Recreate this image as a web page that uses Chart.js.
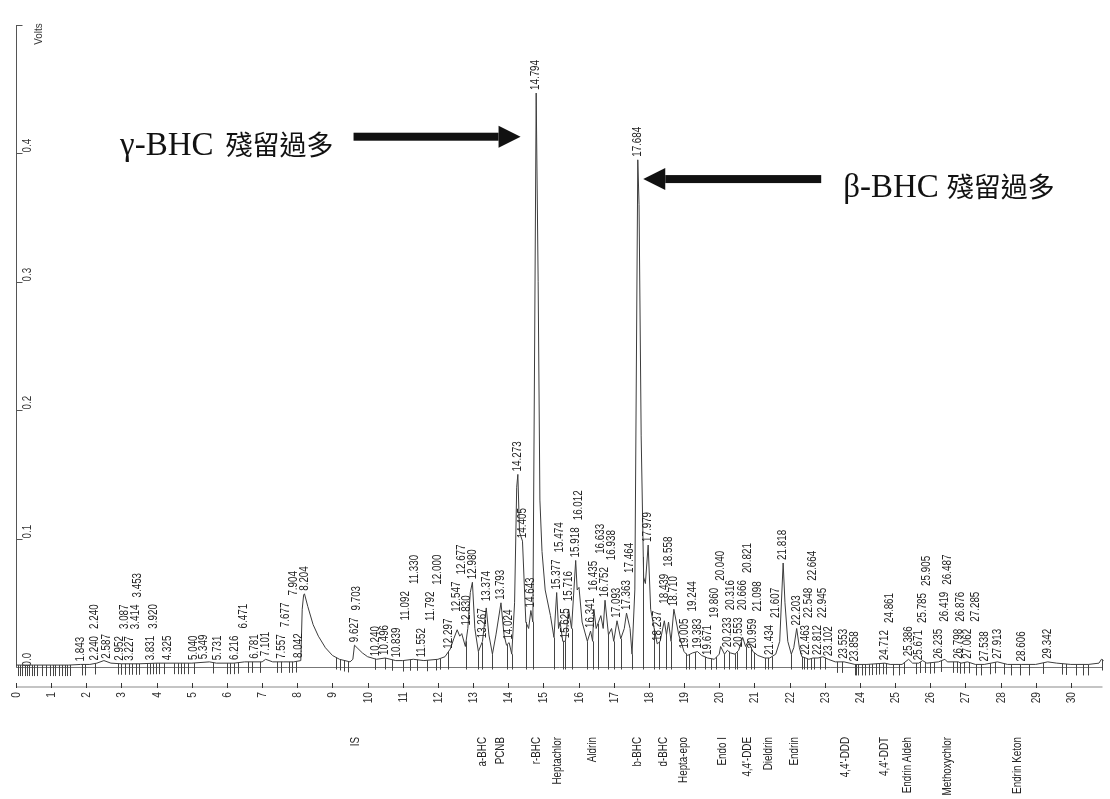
<!DOCTYPE html>
<html><head><meta charset="utf-8">
<script src="https://cdn.jsdelivr.net/npm/chart.js@4.4.1/dist/chart.umd.min.js"></script>
<style>html,body{margin:0;padding:0;background:#fff;}#wrap{width:1110px;height:799px;}</style>
</head><body><div id="wrap"><canvas id="c" width="1110" height="799"></canvas></div>
<script>
// ---- DATA ----
const traceTime = [0,0.5,1.0,1.5,1.84,2.1,2.3,2.5,2.7,3.0,3.5,4.0,4.5,5.0,5.5,5.7,6.2,6.5,7.0,7.1,7.3,7.6,7.9,8.1,8.14,8.18,8.204,8.3,8.45,8.6,8.8,9.0,9.2,9.5,9.58,9.627,9.7,9.85,10.0,10.25,10.5,10.8,11.0,11.3,11.6,12.0,12.2,12.35,12.45,12.547,12.62,12.677,12.78,12.85,12.92,12.98,13.05,13.15,13.267,13.374,13.45,13.55,13.65,13.793,13.88,13.95,14.024,14.1,14.18,14.24,14.273,14.32,14.405,14.5,14.58,14.643,14.7,14.75,14.794,14.85,14.9,14.96,15.05,15.2,15.3,15.377,15.43,15.474,15.55,15.625,15.716,15.8,15.918,15.96,16.012,16.1,16.25,16.341,16.4,16.435,16.5,16.633,16.7,16.752,16.85,16.938,17.0,17.093,17.2,17.3,17.363,17.464,17.52,17.6,17.684,17.72,17.78,17.85,17.9,17.979,18.05,18.15,18.237,18.32,18.439,18.5,18.558,18.63,18.71,18.85,19.0,19.1,19.244,19.383,19.5,19.671,19.86,20.0,20.04,20.15,20.233,20.316,20.45,20.553,20.666,20.75,20.821,20.959,21.098,21.3,21.434,21.607,21.72,21.818,21.87,21.95,22.05,22.12,22.203,22.28,22.35,22.463,22.548,22.664,22.812,22.945,23.102,23.3,23.553,23.858,24.2,24.712,24.861,25.2,25.386,25.5,25.671,25.785,25.905,26.235,26.419,26.487,26.798,26.876,27.062,27.285,27.538,27.913,28.2,28.606,29.0,29.342,29.6,30.0,30.5,30.8,30.87,30.93];
const traceVolts = [0.0015,0.0015,0.0015,0.0015,0.002,0.002,0.003,0.005,0.003,0.0025,0.0025,0.003,0.003,0.003,0.004,0.003,0.003,0.004,0.004,0.006,0.004,0.004,0.004,0.005,0.045,0.056,0.057,0.047,0.033,0.024,0.015,0.009,0.006,0.004,0.006,0.017,0.015,0.011,0.008,0.006,0.007,0.005,0.005,0.006,0.005,0.006,0.008,0.014,0.022,0.029,0.024,0.026,0.016,0.03,0.058,0.066,0.03,0.012,0.02,0.046,0.025,0.01,0.025,0.05,0.025,0.017,0.019,0.01,0.05,0.14,0.15,0.105,0.098,0.035,0.03,0.044,0.035,0.25,0.447,0.3,0.13,0.09,0.06,0.04,0.023,0.058,0.03,0.035,0.02,0.02,0.045,0.03,0.083,0.06,0.062,0.035,0.02,0.028,0.02,0.045,0.03,0.04,0.03,0.052,0.025,0.03,0.02,0.036,0.022,0.03,0.042,0.03,0.01,0.06,0.395,0.36,0.18,0.07,0.065,0.095,0.045,0.03,0.018,0.02,0.036,0.025,0.035,0.02,0.045,0.025,0.012,0.009,0.011,0.012,0.009,0.007,0.006,0.01,0.016,0.01,0.013,0.011,0.01,0.013,0.023,0.016,0.02,0.012,0.009,0.007,0.007,0.01,0.02,0.081,0.05,0.02,0.01,0.015,0.03,0.015,0.008,0.007,0.006,0.007,0.007,0.008,0.006,0.004,0.004,0.002,0.002,0.003,0.002,0.002,0.006,0.003,0.003,0.005,0.003,0.004,0.006,0.004,0.004,0.003,0.004,0.002,0.002,0.004,0.002,0.002,0.002,0.004,0.003,0.002,0.002,0.003,0.006,0.005];
const peakLabels = ["1.843","2.240","2.240","2.587","2.952","3.087","3.227","3.414","3.453","3.831","3.920","4.325","5.040","5.349","5.731","6.216","6.471","6.781","7.101","7.557","7.677","7.904","8.042","8.204","9.627","9.703","10.240","10.496","10.839","11.092","11.330","11.552","11.792","12.000","12.297","12.547","12.677","12.830","12.980","13.267","13.374","13.793","14.024","14.273","14.405","14.643","14.794","15.377","15.474","15.625","15.716","15.918","16.012","16.341","16.435","16.633","16.752","16.938","17.093","17.363","17.464","17.684","17.979","18.237","18.439","18.558","18.710","19.005","19.244","19.383","19.671","19.860","20.040","20.233","20.316","20.553","20.666","20.821","20.959","21.098","21.434","21.607","21.818","22.203","22.463","22.548","22.664","22.812","22.945","23.102","23.553","23.858","24.712","24.861","25.386","25.671","25.785","25.905","26.235","26.419","26.487","26.798","26.876","27.062","27.285","27.538","27.913","28.606","29.342"];
const eventTimes = [0.05,0.12,0.18,0.25,0.32,0.38,0.45,0.52,0.6,0.75,0.85,0.97,1.05,1.12,1.22,1.3,1.38,1.46,1.54,1.88,1.95,2.25,2.9,3.0,3.1,3.2,3.3,3.4,3.5,3.72,3.82,3.9,3.98,4.06,4.2,4.5,4.6,4.7,4.78,4.88,5.05,5.6,6.0,6.1,6.2,6.3,6.6,6.7,6.95,7.42,7.55,7.75,7.85,7.95,9.1,9.22,9.34,9.45,10.2,10.5,10.7,11.0,11.2,11.4,11.7,11.95,12.05,12.3,12.8,13.15,13.25,13.55,13.97,14.1,14.5,14.7,15.3,15.55,15.6,15.8,16.25,16.4,16.55,16.85,17.0,17.2,17.52,17.84,18.15,18.3,18.5,18.63,19.05,19.15,19.3,19.6,19.78,19.92,20.15,20.28,20.45,20.5,20.75,20.9,21.0,21.3,21.4,21.5,22.05,22.35,22.42,22.5,22.6,22.7,22.88,23.0,23.35,23.5,23.85,23.9,23.95,24.05,24.15,24.25,24.35,24.45,24.55,24.65,24.75,24.95,25.1,25.25,25.6,25.72,25.85,26.0,26.1,26.3,26.65,26.75,26.85,26.95,27.1,27.3,27.45,27.7,27.85,28.1,28.3,28.55,28.8,29.2,29.75,29.85,30.15,30.35,30.5,30.88];
const compoundNames = ["IS","a-BHC","PCNB","r-BHC","Heptachlor","Aldrin","b-BHC","d-BHC","Hepta-epo","Endo I","4,4'-DDE","Dieldrin","Endrin","4,4'-DDD","4,4'-DDT","Endrin Aldeh","Methoxychlor","Endrin Keton"];
const compoundTimes = [9.65,13.27,13.79,14.82,15.42,16.39,17.67,18.41,18.98,20.09,20.8,21.4,22.16,23.6,24.72,25.35,26.5,28.5];
const xTickValues = [0,1,2,3,4,5,6,7,8,9,10,11,12,13,14,15,16,17,18,19,20,21,22,23,24,25,26,27,28,29,30];
const yTickValues = [0,0.1,0.2,0.3,0.4,0.5];
const yTickLabels = ["0.0","0.1","0.2","0.3","0.4",""];
const notes = [
  {latin:"γ-BHC", cjk:"殘留過多", tailT:9.6, tipT:14.35, v:0.413, side:"left"},
  {latin:"β-BHC", cjk:"殘留過多", tailT:22.9, tipT:17.84, v:0.380, side:"right"}
];

// ---- rendering ----
const SMALL = '12px "Liberation Sans", Arial, sans-serif';
const SX = 0.82;
const LATIN_FONT = '33px "Liberation Serif", "Times New Roman", serif';
const CJK_FONT = '27px "Noto Sans CJK TC", "Noto Sans CJK SC", sans-serif';
function vtext(ctx, s, x, y, align, font, sx, color){
  ctx.save(); ctx.translate(x, y); ctx.rotate(-Math.PI/2); ctx.scale(sx, 1);
  ctx.font = font; ctx.textAlign = align; ctx.textBaseline = 'middle'; ctx.fillStyle = color || '#222';
  ctx.fillText(s, 0, 0); ctx.restore();
}
function valueAt(t){
  for (let i = 0; i < traceTime.length - 1; i++){
    if (t >= traceTime[i] && t <= traceTime[i+1]){
      const f = (t - traceTime[i]) / (traceTime[i+1] - traceTime[i]);
      return traceVolts[i] + f * (traceVolts[i+1] - traceVolts[i]);
    }
  }
  return traceVolts[traceVolts.length-1];
}
function apexAt(t){
  let m = valueAt(t);
  traceTime.forEach((tt, i) => { if (Math.abs(tt - t) <= 0.03 && traceVolts[i] > m) m = traceVolts[i]; });
  return m;
}

const decor = {
  id: 'decor',
  beforeDatasetsDraw(chart){
    const ctx = chart.ctx, xs = chart.scales.x, ys = chart.scales.y;
    const ca = chart.chartArea;
    ctx.save();
    const axY = ys.getPixelForValue(0) + 20;
    ctx.strokeStyle = '#c4c4c4'; ctx.lineWidth = 2;
    ctx.beginPath(); ctx.moveTo(xs.getPixelForValue(0), axY); ctx.lineTo(xs.getPixelForValue(30.9), axY); ctx.stroke();
    ctx.strokeStyle = '#333'; ctx.lineWidth = 1;
    xTickValues.forEach(v => {
      const x = Math.round(xs.getPixelForValue(v)) + 0.5;
      ctx.beginPath(); ctx.moveTo(x, axY - 4); ctx.lineTo(x, axY + 1); ctx.stroke();
      vtext(ctx, String(v), x, axY + 5, 'right', SMALL, 0.85, '#333');
    });
    const yx = Math.round(ca.left) + 0.5;
    ctx.strokeStyle = '#555';
    ctx.beginPath(); ctx.moveTo(yx, ys.getPixelForValue(0.5)); ctx.lineTo(yx, ys.getPixelForValue(0)); ctx.stroke();
    yTickValues.forEach((v, i) => {
      const y = Math.round(ys.getPixelForValue(v)) + 0.5;
      ctx.beginPath(); ctx.moveTo(yx, y); ctx.lineTo(yx + 6, y); ctx.stroke();
      if (yTickLabels[i]) vtext(ctx, yTickLabels[i], yx + 11, y - 1, 'left', SMALL, SX, '#333');
    });
    vtext(ctx, 'Volts', yx + 22, ys.getPixelForValue(0.5) + 9, 'center', '11px "Liberation Sans", Arial, sans-serif', 0.9, '#333');
    ctx.strokeStyle = '#777';
    const by = Math.round(ys.getPixelForValue(0)) + 0.5;
    ctx.beginPath(); ctx.moveTo(ca.left, by); ctx.lineTo(xs.getPixelForValue(30.9), by); ctx.stroke();
    ctx.strokeStyle = '#444';
    eventTimes.forEach(t => {
      const x = Math.round(xs.getPixelForValue(t)) + 0.5;
      const y = ys.getPixelForValue(valueAt(t));
      ctx.beginPath(); ctx.moveTo(x, y); ctx.lineTo(x, Math.max(y + 11, by + 2)); ctx.stroke();
    });
    ctx.restore();
  },
  afterDatasetsDraw(chart){
    const ctx = chart.ctx, xs = chart.scales.x, ys = chart.scales.y;
    ctx.save();
    const placed = [];
    const W = 9, GAP = 7;
    ctx.font = SMALL;
    peakLabels.forEach(s => {
      const t = parseFloat(s);
      const x = xs.getPixelForValue(t);
      const len = ctx.measureText(s).width * SX;
      let bottom = ys.getPixelForValue(apexAt(t)) - 3;
      let moved = true;
      while (moved){
        moved = false;
        for (const p of placed){
          if (Math.abs(p.x - x) < W && bottom > p.top - GAP && bottom - len < p.bottom + GAP){
            bottom = p.top - GAP; moved = true;
          }
        }
      }
      placed.push({x, top: bottom - len, bottom});
      vtext(ctx, s, x, bottom, 'left', SMALL, SX, '#222');
    });
    compoundNames.forEach((n, i) => {
      vtext(ctx, n, xs.getPixelForValue(compoundTimes[i]), ys.getPixelForValue(0) + 70, 'right', SMALL, SX, '#222');
    });
    notes.forEach(nt => {
      const y = ys.getPixelForValue(nt.v);
      const xt = xs.getPixelForValue(nt.tailT), xp = xs.getPixelForValue(nt.tipT);
      const dir = Math.sign(xp - xt);
      const headBase = xp - dir * 22;
      ctx.fillStyle = '#111';
      ctx.fillRect(Math.min(xt, headBase), y - 4, Math.abs(headBase - xt), 8);
      ctx.beginPath(); ctx.moveTo(xp, y); ctx.lineTo(headBase, y - 11); ctx.lineTo(headBase, y + 11); ctx.closePath(); ctx.fill();
      ctx.textBaseline = 'alphabetic';
      const by = y + 18;
      if (nt.side === 'left'){
        const endX = xt - 20;
        ctx.font = CJK_FONT; ctx.textAlign = 'right'; ctx.fillText(nt.cjk, endX, by);
        const cw = ctx.measureText(nt.cjk).width;
        ctx.font = LATIN_FONT; ctx.textAlign = 'right'; ctx.fillText(nt.latin, endX - cw - 12, by);
      } else {
        const startX = xt + 22;
        ctx.font = LATIN_FONT; ctx.textAlign = 'left'; ctx.fillText(nt.latin, startX, by);
        const lw = ctx.measureText(nt.latin).width;
        ctx.font = CJK_FONT; ctx.textAlign = 'left'; ctx.fillText(nt.cjk, startX + lw + 8, by);
      }
    });
    ctx.restore();
  }
};

new Chart(document.getElementById('c'), {
  type: 'line',
  data: { datasets: [{ data: traceTime.map((t, i) => ({x: t, y: traceVolts[i]})), borderColor: '#3c3c3c', borderWidth: 1, pointRadius: 0, tension: 0, fill: false }] },
  options: {
    responsive: false, animation: false, devicePixelRatio: 1,
    layout: { padding: { left: 16, top: 25, right: 4, bottom: 132 } },
    plugins: { legend: { display: false }, tooltip: { enabled: false } },
    scales: {
      x: { type: 'linear', min: 0, max: 31, display: false },
      y: { type: 'linear', min: 0, max: 0.5, display: false }
    }
  },
  plugins: [decor]
});
</script></body></html>
